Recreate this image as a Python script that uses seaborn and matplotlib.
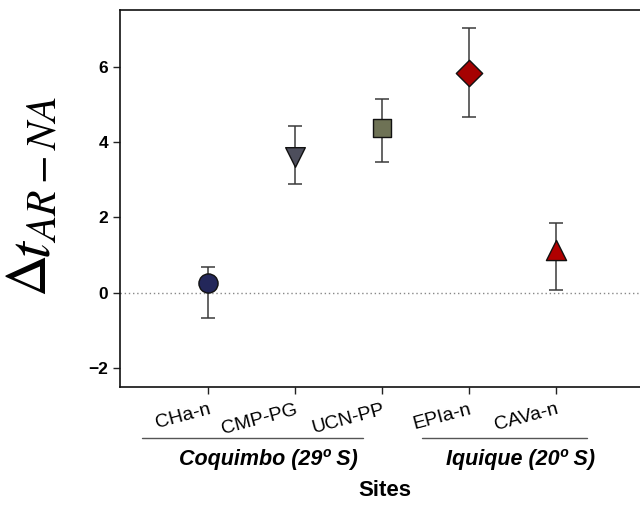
import numpy as np
import pandas as pd
import matplotlib
matplotlib.use("Agg")
import matplotlib.pyplot as plt
import seaborn as sns

sites = ["CHa-n", "CMP-PG", "UCN-PP", "EPIa-n", "CAVa-n"]
values = [0.27, 3.60, 4.36, 5.82, 1.14]
err_low = [-0.66, 2.88, 3.48, 4.67, 0.07]
err_high = [0.67, 4.41, 5.13, 7.02, 1.84]
colors = ["#23275a", "#4d4e5c", "#6e7255", "#a50202", "#b00000"]
markers = ["o", "v", "s", "D", "^"]
sizes = [190, 200, 150, 180, 210]
groups = ["Coquimbo (29º S)", "Iquique (20º S)"]
yticks = [-2, 0, 2, 4, 6]

sns.set_theme(style="white")
plt.rcParams["font.family"] = ["Liberation Sans", "DejaVu Sans"]
plt.rcParams["mathtext.fontset"] = "stix"
plt.rcParams["text.color"] = "black"
plt.rcParams["xtick.color"] = "black"
plt.rcParams["ytick.color"] = "black"
plt.rcParams["axes.labelcolor"] = "black"

df = pd.DataFrame({"site": sites, "value": values})

fig = plt.figure(figsize=(6.4, 5.07), dpi=100)
ax = fig.add_axes([0.1875, 0.2367, 0.8125, 0.7436])

ax.axhline(0, color="#888888", lw=1, ls=(0, (1, 2)), zorder=1)

pos = np.arange(len(sites))
lo = np.array(values) - np.array(err_low)
hi = np.array(err_high) - np.array(values)
ax.errorbar(pos, values, yerr=[lo, hi], fmt="none", ecolor="#3a3a3a",
            elinewidth=1.1, capsize=5, capthick=1.1, zorder=2)

for i, s in enumerate(sites):
    sub = df[df["site"] == s]
    sns.scatterplot(data=sub, x=[i], y="value", marker=markers[i],
                    s=sizes[i], color=colors[i], edgecolor="#111111",
                    linewidth=1, ax=ax, zorder=3, legend=False)

ax.set_xlim(-1.01, 4.97)
ax.set_ylim(-2.5, 7.5)
ax.set_yticks(yticks)
ax.set_yticklabels([("\u2212" + str(abs(t))) if t < 0 else str(t) for t in yticks],
                   fontsize=12.5, fontweight="heavy")
ax.set_xticks(pos)
ax.set_xticklabels(sites, fontsize=14, rotation=15, ha="right",
                   rotation_mode="anchor")
ax.tick_params(axis="both", direction="out", length=5, width=1, color="#222222",
               bottom=True, left=True)
ax.tick_params(axis="x", pad=5)
ax.set_xlabel("")
ax.set_ylabel("")
for side in ["left", "bottom", "top"]:
    ax.spines[side].set_color("#111111")
    ax.spines[side].set_linewidth(1.2)
ax.spines["right"].set_visible(False)

W, H = 640, 507
def fx(px):
    return px / W
def fy(py):
    return 1 - py / H

# group lines and labels
fig.add_artist(plt.Line2D([fx(142), fx(363)], [fy(438), fy(438)], color="#555555", lw=1))
fig.add_artist(plt.Line2D([fx(422), fx(587)], [fy(438), fy(438)], color="#555555", lw=1))
fig.text(fx(268), fy(459), groups[0], fontsize=15.5, fontweight="bold", style="italic",
         ha="center", va="center")
fig.text(fx(520), fy(459), groups[1], fontsize=15.5, fontweight="bold", style="italic",
         ha="center", va="center")
fig.text(fx(385), fy(490), "Sites", fontsize=16, fontweight="bold", ha="center", va="center")

# y label
fig.text(fx(31), fy(276), r"$\Delta$", fontsize=42, rotation=90, ha="center", va="center")
fig.text(fx(34), fy(249), r"$t$", fontsize=44, rotation=90, ha="center", va="center")
fig.text(fx(45), fy(170), r"$AR-NA$", fontsize=30, rotation=90, ha="center", va="center")

fig.savefig("out.png", dpi=100)
